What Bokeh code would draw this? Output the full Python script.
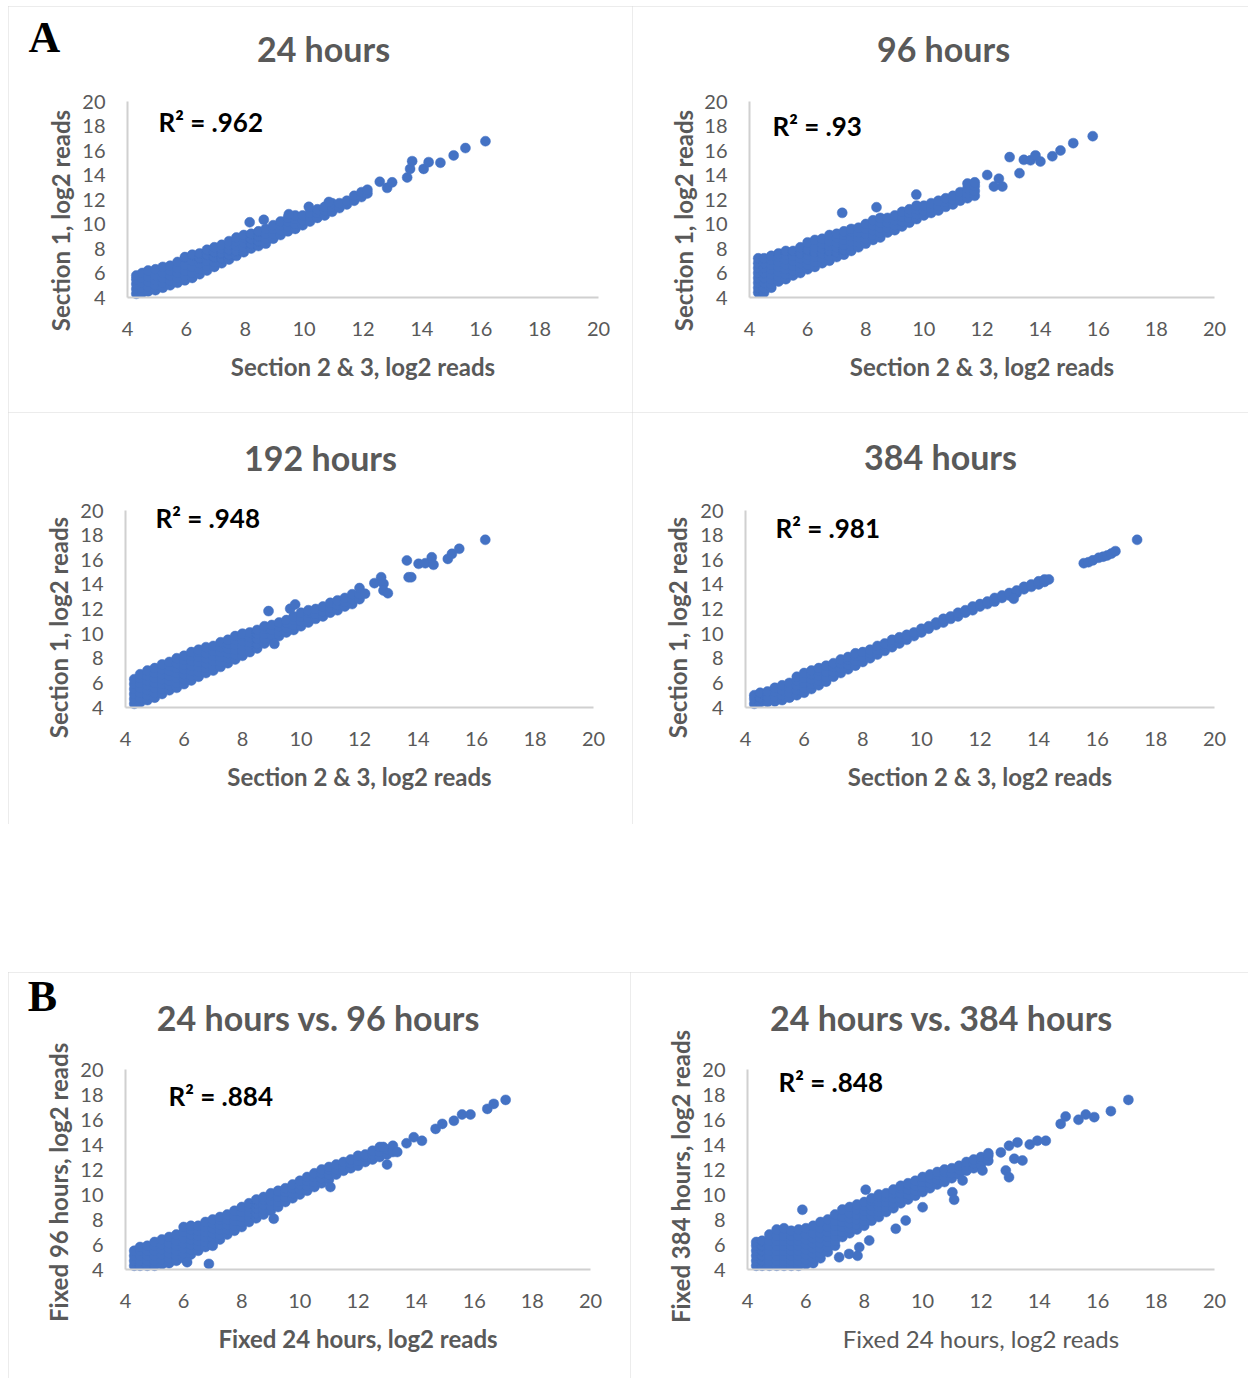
import math
from bokeh.plotting import figure
from bokeh.layouts import column, row
from bokeh.models import Range1d, FixedTicker, Label, Spacer
from bokeh.embed import file_html
from bokeh.resources import INLINE

# ---------------- data (log2 reads) ----------------
TICKS = [4, 6, 8, 10, 12, 14, 16, 18, 20]

# 24 hours: Section 2 & 3 (x) vs Section 1 (y); dense band columns (x, [y...])
h24_band = [
    (4.3, [4.3, 4.7, 5.1, 5.5, 5.8]), (4.5, [4.4, 4.8, 5.2, 5.6, 6.0]),
    (4.7, [4.5, 4.9, 5.3, 5.7, 6.2]), (4.95, [4.6, 5.0, 5.4, 5.8, 6.3]),
    (5.2, [4.8, 5.2, 5.6, 6.0, 6.5]), (5.45, [5.0, 5.4, 5.8, 6.2, 6.6]),
    (5.7, [5.2, 5.6, 6.0, 6.4, 6.9]), (5.95, [5.4, 5.8, 6.2, 6.7, 7.3]),
    (6.2, [5.6, 6.0, 6.5, 7.0, 7.5]), (6.45, [5.9, 6.3, 6.8, 7.2, 7.6]),
    (6.7, [6.2, 6.6, 7.0, 7.5, 7.9]), (6.95, [6.5, 6.9, 7.3, 7.7, 8.1]),
    (7.2, [6.8, 7.2, 7.6, 8.0, 8.3]), (7.45, [7.1, 7.5, 7.9, 8.3, 8.6]),
    (7.7, [7.4, 7.8, 8.2, 8.6, 8.9]), (7.95, [7.7, 8.1, 8.5, 8.9, 9.1]),
    (8.2, [8.0, 8.4, 8.8, 9.2]), (8.45, [8.2, 8.6, 9.0, 9.4]),
    (8.7, [8.4, 8.8, 9.2, 9.6]), (8.95, [8.8, 9.2, 9.6, 9.9]),
    (9.2, [9.1, 9.5, 9.9, 10.2]), (9.45, [9.4, 9.8, 10.2, 10.5]),
    (9.7, [9.6, 10.0, 10.4, 10.7]), (9.95, [9.9, 10.3, 10.7]),
    (10.2, [10.2, 10.6, 10.9]), (10.45, [10.5, 10.9, 11.2]),
    (10.7, [10.7, 11.1, 11.4]), (10.95, [11.0, 11.4, 11.7]),
    (11.2, [11.3, 11.7]), (11.45, [11.6, 11.9]), (11.7, [11.9, 12.3]),
    (11.95, [12.2, 12.6]), (12.15, [12.5, 12.8]),
]
h24_out_x = [8.15, 8.63, 9.48, 10.16, 10.84, 12.57, 12.82, 12.99, 13.5, 13.6, 13.67, 14.06, 14.23, 14.63, 15.08, 15.48, 16.16]
h24_out_y = [10.14, 10.34, 10.8, 11.4, 11.8, 13.45, 12.95, 13.4, 13.8, 14.5, 15.13, 14.5, 15.05, 15.0, 15.6, 16.2, 16.76]

# 96 hours
h96_band = [
    (4.3, [4.4, 4.8, 5.2, 5.6, 6.0, 6.4, 6.8, 7.2]), (4.5, [4.4, 4.8, 5.2, 5.6, 6.0, 6.4, 6.8, 7.2]),
    (4.75, [4.8, 5.1, 5.5, 5.9, 6.3, 6.7, 7.1, 7.4]), (5.0, [5.3, 5.7, 6.1, 6.5, 6.9, 7.3, 7.6]),
    (5.25, [5.5, 5.9, 6.3, 6.7, 7.1, 7.5, 7.8]), (5.5, [5.8, 6.2, 6.6, 7.0, 7.4, 7.8]),
    (5.75, [6.0, 6.4, 6.8, 7.2, 7.6, 8.1]), (6.0, [6.3, 6.7, 7.1, 7.5, 7.9, 8.5]),
    (6.25, [6.5, 6.9, 7.3, 7.7, 8.1, 8.7]), (6.5, [6.8, 7.2, 7.6, 8.0, 8.4, 8.8]),
    (6.75, [7.0, 7.4, 7.8, 8.2, 8.6, 9.1]), (7.0, [7.3, 7.7, 8.1, 8.5, 8.9, 9.2]),
    (7.25, [7.5, 7.9, 8.3, 8.7, 9.1, 9.4]), (7.5, [7.8, 8.2, 8.6, 9.0, 9.4, 9.6]),
    (7.75, [8.1, 8.5, 8.9, 9.3, 9.7]), (8.0, [8.4, 8.8, 9.2, 9.6, 10.0]),
    (8.25, [8.7, 9.1, 9.5, 9.9, 10.3]), (8.5, [8.9, 9.3, 9.7, 10.1, 10.5]),
    (8.75, [9.3, 9.7, 10.1, 10.5]), (9.0, [9.5, 9.9, 10.3, 10.7]),
    (9.25, [9.8, 10.2, 10.6, 11.0]), (9.5, [10.1, 10.5, 10.9, 11.2]),
    (9.75, [10.4, 10.8, 11.2, 11.5]), (10.0, [10.7, 11.1, 11.5]),
    (10.25, [10.9, 11.3, 11.7]), (10.5, [11.1, 11.5, 11.9]),
    (10.75, [11.4, 11.8, 12.1]), (11.0, [11.6, 12.0, 12.3]),
    (11.25, [11.9, 12.3, 12.6]), (11.5, [12.1, 12.5, 12.9, 13.3]),
    (11.75, [12.3, 12.7, 13.1, 13.4]),
]
h96_out_x = [7.19, 8.37, 9.74, 12.18, 12.41, 12.58, 12.70, 12.95, 13.29, 13.44, 13.67, 13.84, 14.01, 14.42, 14.70, 15.14, 15.81]
h96_out_y = [10.91, 11.37, 12.4, 14.0, 13.06, 13.7, 13.06, 15.46, 14.15, 15.24, 15.2, 15.6, 15.1, 15.53, 16.0, 16.6, 17.17]

# 192 hours
h192_band = [
    (4.3, [4.3, 4.7, 5.1, 5.5, 5.9, 6.3]), (4.5, [4.4, 4.8, 5.2, 5.6, 6.0, 6.4, 6.7]),
    (4.75, [4.6, 5.0, 5.4, 5.8, 6.2, 6.6, 7.0]), (5.0, [4.8, 5.2, 5.6, 6.0, 6.4, 6.8, 7.2]),
    (5.25, [5.1, 5.5, 5.9, 6.3, 6.7, 7.1, 7.5]), (5.5, [5.4, 5.8, 6.2, 6.6, 7.0, 7.4, 7.7]),
    (5.75, [5.6, 6.0, 6.4, 6.8, 7.2, 7.6, 8.0]), (6.0, [5.9, 6.3, 6.7, 7.1, 7.5, 7.9, 8.2]),
    (6.25, [6.2, 6.6, 7.0, 7.4, 7.8, 8.2, 8.5]), (6.5, [6.5, 6.9, 7.3, 7.7, 8.1, 8.5, 8.7]),
    (6.75, [6.8, 7.2, 7.6, 8.0, 8.4, 8.9]), (7.0, [7.0, 7.4, 7.8, 8.2, 8.6, 9.0]),
    (7.25, [7.3, 7.7, 8.1, 8.5, 8.9, 9.3]), (7.5, [7.6, 8.0, 8.4, 8.8, 9.2, 9.5]),
    (7.75, [7.9, 8.3, 8.7, 9.1, 9.5, 9.8]), (8.0, [8.2, 8.6, 9.0, 9.4, 9.8, 10.0]),
    (8.25, [8.5, 8.9, 9.3, 9.7, 10.1]), (8.5, [8.8, 9.2, 9.6, 10.0, 10.3]),
    (8.75, [9.2, 9.6, 10.0, 10.4, 10.6]), (9.0, [9.5, 9.9, 10.3, 10.7]),
    (9.25, [9.8, 10.2, 10.6, 10.9]), (9.5, [10.1, 10.5, 10.9, 11.1]),
    (9.75, [10.3, 10.7, 11.1, 11.4]), (10.0, [10.6, 11.0, 11.4, 11.7]),
    (10.25, [10.9, 11.3, 11.7, 11.9]), (10.5, [11.2, 11.6, 12.0]),
    (10.75, [11.4, 11.8, 12.2]), (11.0, [11.7, 12.1, 12.5]),
    (11.25, [11.9, 12.3, 12.7]), (11.5, [12.2, 12.6, 12.9]),
    (11.75, [12.4, 12.8, 13.2]), (12.0, [12.8, 13.2, 13.7]),
]
h192_out_x = [8.89, 9.09, 9.63, 9.8, 12.19, 12.51, 12.74, 12.82, 12.82, 12.97, 13.62, 13.68, 13.77, 14.02, 14.25, 14.47, 14.53, 15.02, 15.16, 15.41, 16.3]
h192_out_y = [11.83, 9.17, 12.02, 12.37, 13.24, 14.1, 14.58, 14.05, 13.5, 13.28, 15.94, 14.58, 14.58, 15.67, 15.72, 16.2, 15.59, 16.07, 16.48, 16.89, 17.62]

# 384 hours
h384_band = [
    (4.3, [4.3, 4.7, 5.0]), (4.5, [4.4, 4.8, 5.2]), (4.75, [4.45, 4.85, 5.3]),
    (5.0, [4.5, 4.9, 5.3, 5.6]), (5.25, [4.6, 5.0, 5.4, 5.8]), (5.5, [4.8, 5.2, 5.6, 6.0]),
    (5.75, [5.0, 5.4, 5.8, 6.2, 6.5]), (6.0, [5.2, 5.6, 6.0, 6.4, 6.8]),
    (6.25, [5.5, 5.9, 6.3, 6.7, 7.0]), (6.5, [5.8, 6.2, 6.6, 7.0, 7.2]),
    (6.75, [6.1, 6.5, 6.9, 7.4]), (7.0, [6.5, 6.9, 7.3, 7.6]),
    (7.25, [6.8, 7.2, 7.6, 7.9]), (7.5, [7.1, 7.5, 7.9, 8.1]),
    (7.75, [7.4, 7.8, 8.2, 8.4]), (8.0, [7.7, 8.1, 8.5]), (8.25, [8.0, 8.4, 8.7]),
    (8.5, [8.3, 8.7, 9.0]), (8.75, [8.6, 9.0, 9.2]), (9.0, [8.9, 9.3, 9.5]),
    (9.25, [9.2, 9.6, 9.7]), (9.5, [9.5, 9.9]), (9.75, [9.8, 10.1]),
    (10.0, [10.1, 10.4]), (10.25, [10.4, 10.6]), (10.5, [10.7, 10.9]),
    (10.75, [10.9, 11.2]), (11.0, [11.2, 11.4]), (11.25, [11.4, 11.7]),
    (11.5, [11.7, 11.9]), (11.75, [11.9, 12.2]), (12.0, [12.2, 12.4]),
    (12.25, [12.4, 12.6]), (12.5, [12.6, 12.9]), (12.75, [12.9, 13.1]),
    (13.0, [13.1, 13.3]), (13.25, [13.3, 13.5]), (13.5, [13.6, 13.8]),
    (13.75, [13.8, 14.0]), (14.0, [14.0, 14.25]), (14.2, [14.2, 14.4]), (14.35, [14.4]),
]
h384_out_x = [13.15, 15.54, 15.7, 15.85, 16.05, 16.2, 16.34, 16.48, 16.62, 17.36]
h384_out_y = [12.83, 15.72, 15.8, 15.95, 16.16, 16.25, 16.35, 16.5, 16.7, 17.62]

# Fixed 24 hours (x) vs fixed 96 hours (y)
f96_band = [
    (4.3, [4.3, 4.7, 5.1, 5.5]), (4.5, [4.3, 4.7, 5.1, 5.5, 5.8]),
    (4.75, [4.3, 4.7, 5.1, 5.5, 5.9]), (5.0, [4.3, 4.7, 5.1, 5.5, 5.9, 6.2]),
    (5.25, [4.4, 4.8, 5.2, 5.6, 6.0, 6.4]), (5.5, [4.5, 4.9, 5.3, 5.7, 6.1, 6.6]),
    (5.75, [4.7, 5.1, 5.5, 5.9, 6.3, 6.8]), (6.0, [4.9, 5.3, 5.7, 6.1, 6.5, 7.0, 7.4]),
    (6.25, [5.2, 5.6, 6.0, 6.4, 6.8, 7.2, 7.5]), (6.5, [5.5, 5.9, 6.3, 6.7, 7.1, 7.5]),
    (6.75, [5.8, 6.2, 6.6, 7.0, 7.4, 7.8]), (7.0, [6.1, 6.5, 6.9, 7.3, 7.7, 8.0]),
    (7.25, [6.4, 6.8, 7.2, 7.6, 8.0, 8.2]), (7.5, [6.8, 7.2, 7.6, 8.0, 8.4]),
    (7.75, [7.1, 7.5, 7.9, 8.3, 8.7]), (8.0, [7.4, 7.8, 8.2, 8.6, 9.0]),
    (8.25, [7.8, 8.2, 8.6, 9.0, 9.3]), (8.5, [8.1, 8.5, 8.9, 9.3, 9.6]),
    (8.75, [8.4, 8.8, 9.2, 9.6, 9.8]), (9.0, [8.7, 9.1, 9.5, 9.9, 10.1]),
    (9.25, [9.0, 9.4, 9.8, 10.2, 10.3]), (9.5, [9.4, 9.8, 10.2, 10.5]),
    (9.75, [9.7, 10.1, 10.5, 10.8]), (10.0, [10.0, 10.4, 10.8, 11.1]),
    (10.25, [10.3, 10.7, 11.1, 11.4]), (10.5, [10.6, 11.0, 11.4, 11.7]),
    (10.75, [10.9, 11.3, 11.7, 12.0]), (11.0, [11.2, 11.6, 12.0, 12.2]),
    (11.25, [11.6, 12.0, 12.4]), (11.5, [11.9, 12.3, 12.6]),
    (11.75, [12.1, 12.5, 12.8]), (12.0, [12.3, 12.7, 13.1]),
    (12.25, [12.6, 13.0, 13.2]), (12.5, [12.8, 13.2, 13.5]),
    (12.75, [13.0, 13.4, 13.8]), (13.0, [13.2, 13.6]), (13.2, [13.4, 13.9]),
]
f96_out_x = [6.12, 6.87, 7.0, 9.1, 11.05, 12.87, 13.0, 13.35, 13.67, 13.92, 14.2, 14.67, 14.9, 15.3, 15.58, 15.87, 16.45, 16.67, 17.08]
f96_out_y = [4.59, 4.45, 5.9, 8.06, 10.6, 13.8, 12.4, 13.4, 14.1, 14.58, 14.3, 15.25, 15.65, 15.9, 16.4, 16.4, 16.85, 17.25, 17.57]

# Fixed 24 hours (x) vs fixed 384 hours (y)
f384_band = [
    (4.3, [4.3, 4.7, 5.1, 5.5, 5.9, 6.2]), (4.5, [4.3, 4.7, 5.1, 5.5, 5.9, 6.3]),
    (4.75, [4.3, 4.7, 5.1, 5.5, 5.9, 6.3, 6.8]), (5.0, [4.3, 4.7, 5.1, 5.5, 5.9, 6.3, 6.7, 7.2]),
    (5.25, [4.3, 4.7, 5.1, 5.5, 5.9, 6.3, 6.7, 7.3]), (5.5, [4.3, 4.7, 5.1, 5.5, 5.9, 6.3, 6.7, 7.1]),
    (5.75, [4.3, 4.7, 5.1, 5.5, 5.9, 6.3, 6.7, 7.2]), (6.0, [4.4, 4.8, 5.2, 5.6, 6.0, 6.4, 6.8, 7.3]),
    (6.25, [4.5, 4.9, 5.3, 5.7, 6.1, 6.5, 6.9, 7.5]), (6.5, [4.9, 5.3, 5.7, 6.1, 6.5, 6.9, 7.3, 7.8]),
    (6.75, [5.4, 5.8, 6.2, 6.6, 7.0, 7.4, 8.0]), (7.0, [5.9, 6.3, 6.7, 7.1, 7.5, 7.9, 8.4]),
    (7.25, [6.6, 7.0, 7.4, 7.8, 8.2, 8.8]), (7.5, [6.9, 7.3, 7.7, 8.1, 8.5, 9.0]),
    (7.75, [7.2, 7.6, 8.0, 8.4, 8.8, 9.2]), (8.0, [7.5, 7.9, 8.3, 8.7, 9.1, 9.4]),
    (8.25, [7.9, 8.3, 8.7, 9.1, 9.5, 9.7]), (8.5, [8.2, 8.6, 9.0, 9.4, 9.8, 10.0]),
    (8.75, [8.6, 9.0, 9.4, 9.8, 10.1]), (9.0, [8.9, 9.3, 9.7, 10.1, 10.4]),
    (9.25, [9.3, 9.7, 10.1, 10.5, 10.7]), (9.5, [9.6, 10.0, 10.4, 10.8, 10.9]),
    (9.75, [9.9, 10.3, 10.7, 11.1]), (10.0, [10.2, 10.6, 11.0, 11.4]),
    (10.25, [10.5, 10.9, 11.3, 11.6]), (10.5, [10.8, 11.2, 11.6, 11.8]),
    (10.75, [11.0, 11.4, 11.8, 12.0]), (11.0, [11.3, 11.7, 12.1]),
    (11.25, [11.6, 12.0, 12.3]), (11.5, [11.9, 12.3, 12.6]),
    (11.75, [12.1, 12.5, 12.8]), (12.0, [12.4, 12.8, 13.0]), (12.25, [12.7, 13.1, 13.3]),
]
f384_out_x = [5.88, 7.14, 7.48, 7.77, 7.83, 8.05, 8.17, 9.08, 9.42, 10.0, 11.02, 11.08, 11.37, 12.05, 12.68, 12.85, 12.96, 12.96, 13.14, 13.25, 13.42, 13.67, 13.93, 14.22, 14.73, 14.9, 15.34, 15.59, 15.88, 16.45, 17.05]
f384_out_y = [8.78, 4.98, 5.25, 5.1, 5.78, 10.38, 6.32, 7.26, 7.92, 8.98, 10.18, 9.58, 11.12, 11.92, 13.37, 11.92, 11.38, 13.9, 12.86, 14.17, 12.72, 14.0, 14.3, 14.3, 15.65, 16.24, 15.98, 16.4, 16.19, 16.67, 17.57]

titles = ["24 hours", "96 hours", "192 hours", "384 hours",
          "24 hours vs. 96 hours", "24 hours vs. 384 hours"]
r2_texts = ["R\u00b2 = .962", "R\u00b2 = .93", "R\u00b2 = .948", "R\u00b2 = .981",
            "R\u00b2 = .884", "R\u00b2 = .848"]
x_labels = ["Section 2 & 3, log2 reads"] * 4 + ["Fixed 24 hours, log2 reads"] * 2
y_labels = ["Section 1, log2 reads"] * 4 + ["Fixed 96 hours,  log2 reads", "Fixed 384 hours, log2 reads"]

# ---------------- styling ----------------
BLUE = "#4472C4"
GRAY = "#595959"
AXIS = "#d0d0d0"
BORDER = "#d9d9d9"
FONT = "Lato"


def flatten(band, ox, oy):
    xs, ys = [], []
    for x, yl in band:
        for y in yl:
            xs.append(x)
            ys.append(y)
    return xs + list(ox), ys + list(oy)


def make_panel(i, band, ox, oy, fig, axes, title_pos, r2_pos, ylab_pos,
               xlabel_bold=True, letter=None, letter_pos=None):
    L, T, W, H = fig              # figure box on the page
    ax0, ax1, ay20, ay4 = axes    # where x=4, x=20, y=20, y=4 fall on the page
    sx = (ax1 - ax0) / 16.0
    sy = (ay4 - ay20) / 16.0
    xr = Range1d(4 - (ax0 - L) / sx, 20 + (L + W - ax1) / sx)
    yr = Range1d(4 - (T + H - ay4) / sy, 20 + (ay20 - T) / sy)
    p = figure(width=W, height=H, x_range=xr, y_range=yr, min_border=0,
               output_backend="svg", toolbar_location=None, tools="",
               styles={"outline": "2px solid " + BORDER, "outline-offset": "-2px"})
    p.title.visible = False
    p.outline_line_color = None
    p.background_fill_color = "white"
    p.border_fill_color = "white"
    p.xgrid.visible = False
    p.ygrid.visible = False
    xs, ys = flatten(band, ox, oy)
    p.scatter(xs, ys, size=10, fill_color=BLUE, line_color=BLUE, line_width=0.5)
    for ax in (p.xaxis[0], p.yaxis[0]):
        ax.fixed_location = 4
        ax.bounds = (4, 20)
        ax.ticker = FixedTicker(ticks=TICKS)
        ax.axis_line_color = AXIS
        ax.axis_line_width = 2
        ax.major_tick_line_color = None
        ax.minor_tick_line_color = None
        ax.major_label_text_font = FONT
        ax.major_label_text_font_size = "20px"
        ax.major_label_text_color = GRAY
    p.xaxis[0].major_label_standoff = 18
    p.yaxis[0].major_label_standoff = 16
    xa = p.xaxis[0]
    xa.axis_label = x_labels[i]
    xa.axis_label_text_font = FONT
    xa.axis_label_text_font_size = "24px"
    xa.axis_label_text_color = GRAY
    xa.axis_label_text_font_style = "bold" if xlabel_bold else "normal"
    xa.axis_label_standoff = 13

    def scr(pt):
        return pt[0] - L, T + H - pt[1]

    tx, ty = scr(title_pos)
    p.add_layout(Label(x=tx, y=ty, x_units="screen", y_units="screen",
                       text=titles[i], text_align="center", text_baseline="middle",
                       text_font=FONT, text_font_size="34px", text_font_style="bold",
                       text_color=GRAY))
    rx, ry = scr(r2_pos)
    p.add_layout(Label(x=rx, y=ry, x_units="screen", y_units="screen",
                       text=r2_texts[i], text_align="left", text_baseline="middle",
                       text_font=FONT, text_font_size="26px", text_font_style="bold",
                       text_color="black"))
    yx, yy = scr(ylab_pos)
    p.add_layout(Label(x=yx, y=yy, x_units="screen", y_units="screen",
                       text=y_labels[i], angle=math.pi / 2, text_align="center",
                       text_baseline="middle", text_font=FONT, text_font_size="24px",
                       text_font_style="bold", text_color=GRAY))
    if letter:
        lx, ly = scr(letter_pos)
        p.add_layout(Label(x=lx, y=ly, x_units="screen", y_units="screen",
                           text=letter, text_align="center", text_baseline="middle",
                           text_font="Liberation Serif", text_font_size="44px",
                           text_font_style="bold", text_color="black"))
    return p


p1 = make_panel(0, h24_band, h24_out_x, h24_out_y, (8, 6, 624, 406), (127, 598, 101, 297),
                (323, 48), (158, 121), (60, 220), letter="A", letter_pos=(44, 37))
p2 = make_panel(1, h96_band, h96_out_x, h96_out_y, (632, 6, 616, 406), (749, 1214, 101, 297),
                (943, 48), (772, 125), (683, 220))
p3 = make_panel(2, h192_band, h192_out_x, h192_out_y, (8, 412, 624, 412), (125, 593, 510, 707),
                (320, 457), (155, 517), (58, 627))
p4 = make_panel(3, h384_band, h384_out_x, h384_out_y, (632, 412, 616, 412), (745, 1214, 510, 707),
                (940, 456), (775, 527), (677, 627))
p5 = make_panel(4, f96_band, f96_out_x, f96_out_y, (8, 972, 622, 406), (125, 590, 1069, 1269),
                (318, 1017), (168, 1095), (58, 1179), letter="B", letter_pos=(42, 996))
p6 = make_panel(5, f384_band, f384_out_x, f384_out_y, (630, 972, 618, 406), (747, 1214, 1069, 1269),
                (941, 1017), (778, 1081), (680, 1176), xlabel_bold=False)

layout = column(
    Spacer(width=1248, height=6),
    row(Spacer(width=8, height=406), p1, p2),
    row(Spacer(width=8, height=412), p3, p4),
    Spacer(width=1248, height=148),
    row(Spacer(width=8, height=406), p5, p6),
)

open("out.html", "w").write(file_html(layout, INLINE))
